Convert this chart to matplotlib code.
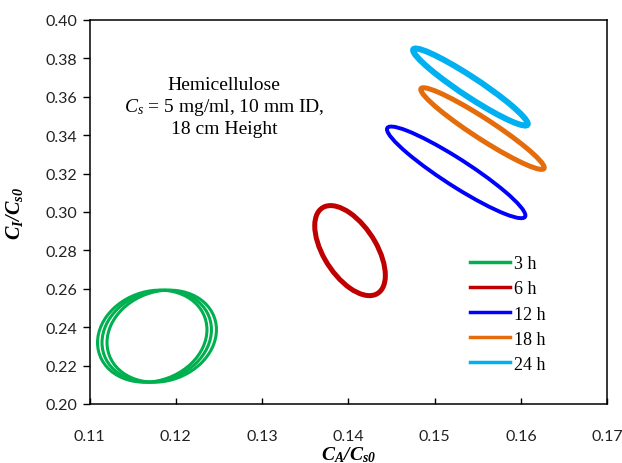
import matplotlib
matplotlib.use("Agg")
import matplotlib.pyplot as plt
from matplotlib.patches import Circle
from matplotlib.transforms import Affine2D
from matplotlib.lines import Line2D
import numpy as np

# ---------------- data ----------------
series_labels = ['3 h', '6 h', '12 h', '18 h', '24 h']
series_colors = ['#00B050', '#C00000', '#0000FF', '#E46C0A', '#00B0F0']
series_lw = [2.2, 3.6, 2.8, 3.6, 4.3]

# each closed loop (limit cycle): series index, centre, half-amplitudes and
# coupling (cosine of the phase between C_A and C_I oscillations)
loop_series = [0, 0, 0, 1, 2, 3, 4]
loop_cx = [0.11727, 0.11779, 0.11837, 0.14019, 0.15249, 0.15554, 0.15414]
loop_cy = [0.23533, 0.23533, 0.23533, 0.27989, 0.32064, 0.34346, 0.36509]
loop_ax = [0.00634, 0.00634, 0.00634, 0.00409, 0.00802, 0.00715, 0.00664]
loop_ay = [0.02397, 0.02397, 0.02397, 0.02345, 0.02387, 0.02126, 0.02006]
loop_corr = [0.14, 0.14, 0.14, -0.55, -0.939, -0.956, -0.955]

x_ticks = [0.11, 0.12, 0.13, 0.14, 0.15, 0.16, 0.17]
y_ticks = [0.20, 0.22, 0.24, 0.26, 0.28, 0.30, 0.32, 0.34, 0.36, 0.38, 0.40]

# ---------------- style ----------------
plt.rcParams['mathtext.fontset'] = 'custom'
plt.rcParams['mathtext.rm'] = 'Liberation Serif'
plt.rcParams['mathtext.it'] = 'Liberation Serif:italic'
plt.rcParams['mathtext.bf'] = 'Liberation Serif:bold:italic'

W, H = 622, 464
fig = plt.figure(figsize=(W / 100, H / 100), dpi=100)
L, R, T, B = 89.5, 607.3, 21, 405
ax = fig.add_axes([L / W, (H - B) / H, (R - L) / W, (B - T) / H])

ax.set_xlim(0.11, 0.17)
ax.set_ylim(0.20, 0.40)

for i, s in enumerate(loop_series):
    c = loop_corr[i]
    m = Affine2D(np.array([[loop_ax[i], 0.0, loop_cx[i]],
                           [loop_ay[i] * c, loop_ay[i] * np.sqrt(1 - c * c), loop_cy[i]],
                           [0.0, 0.0, 1.0]]))
    p = Circle((0, 0), 1, fill=False, edgecolor=series_colors[s],
               linewidth=series_lw[s], transform=m + ax.transData, zorder=3)
    ax.add_patch(p)

for sp in ax.spines.values():
    sp.set_linewidth(1.1)
    sp.set_color('black')

ax.set_xticks(x_ticks)
ax.set_yticks(y_ticks)
ax.set_xticklabels([f'{v:.2f}' for v in x_ticks])
ax.set_yticklabels([f'{v:.2f}' for v in y_ticks])
ax.tick_params(axis='x', direction='in', length=4, width=1, pad=18,
               labelsize=11.5)
ax.tick_params(axis='y', direction='out', length=5, width=1, pad=4,
               labelsize=11.5)
for lab in ax.get_xticklabels() + ax.get_yticklabels():
    lab.set_fontfamily('Lato')
    lab.set_color('#222222')

ax.set_xlabel(r'$\mathbf{C_A/C_{s0}}$', fontsize=14)
ax.xaxis.set_label_coords(0.5, -0.104)
ax.set_ylabel(r'$\mathbf{C_I/C_{s0}}$', fontsize=14.5)
ax.yaxis.set_label_coords(-0.125, 0.5)

ax.text(0.1256, 0.3549,
        'Hemicellulose\n$C_s$ = 5 mg/ml, 10 mm ID,\n18 cm Height',
        ha='center', va='center', fontsize=14, family='Liberation Serif',
        linespacing=1.22)

handles = [Line2D([], [], color=series_colors[k], linewidth=2.5)
           for k in range(len(series_labels))]
leg = ax.legend(handles, series_labels, loc='upper left',
                bbox_to_anchor=(454 / W, (H - 240) / H),
                bbox_transform=fig.transFigure, frameon=False,
                prop={'family': 'Liberation Serif', 'size': 13},
                handlelength=2.2, handletextpad=0.2, labelspacing=0.45)

fig.savefig('out.png', dpi=100)
